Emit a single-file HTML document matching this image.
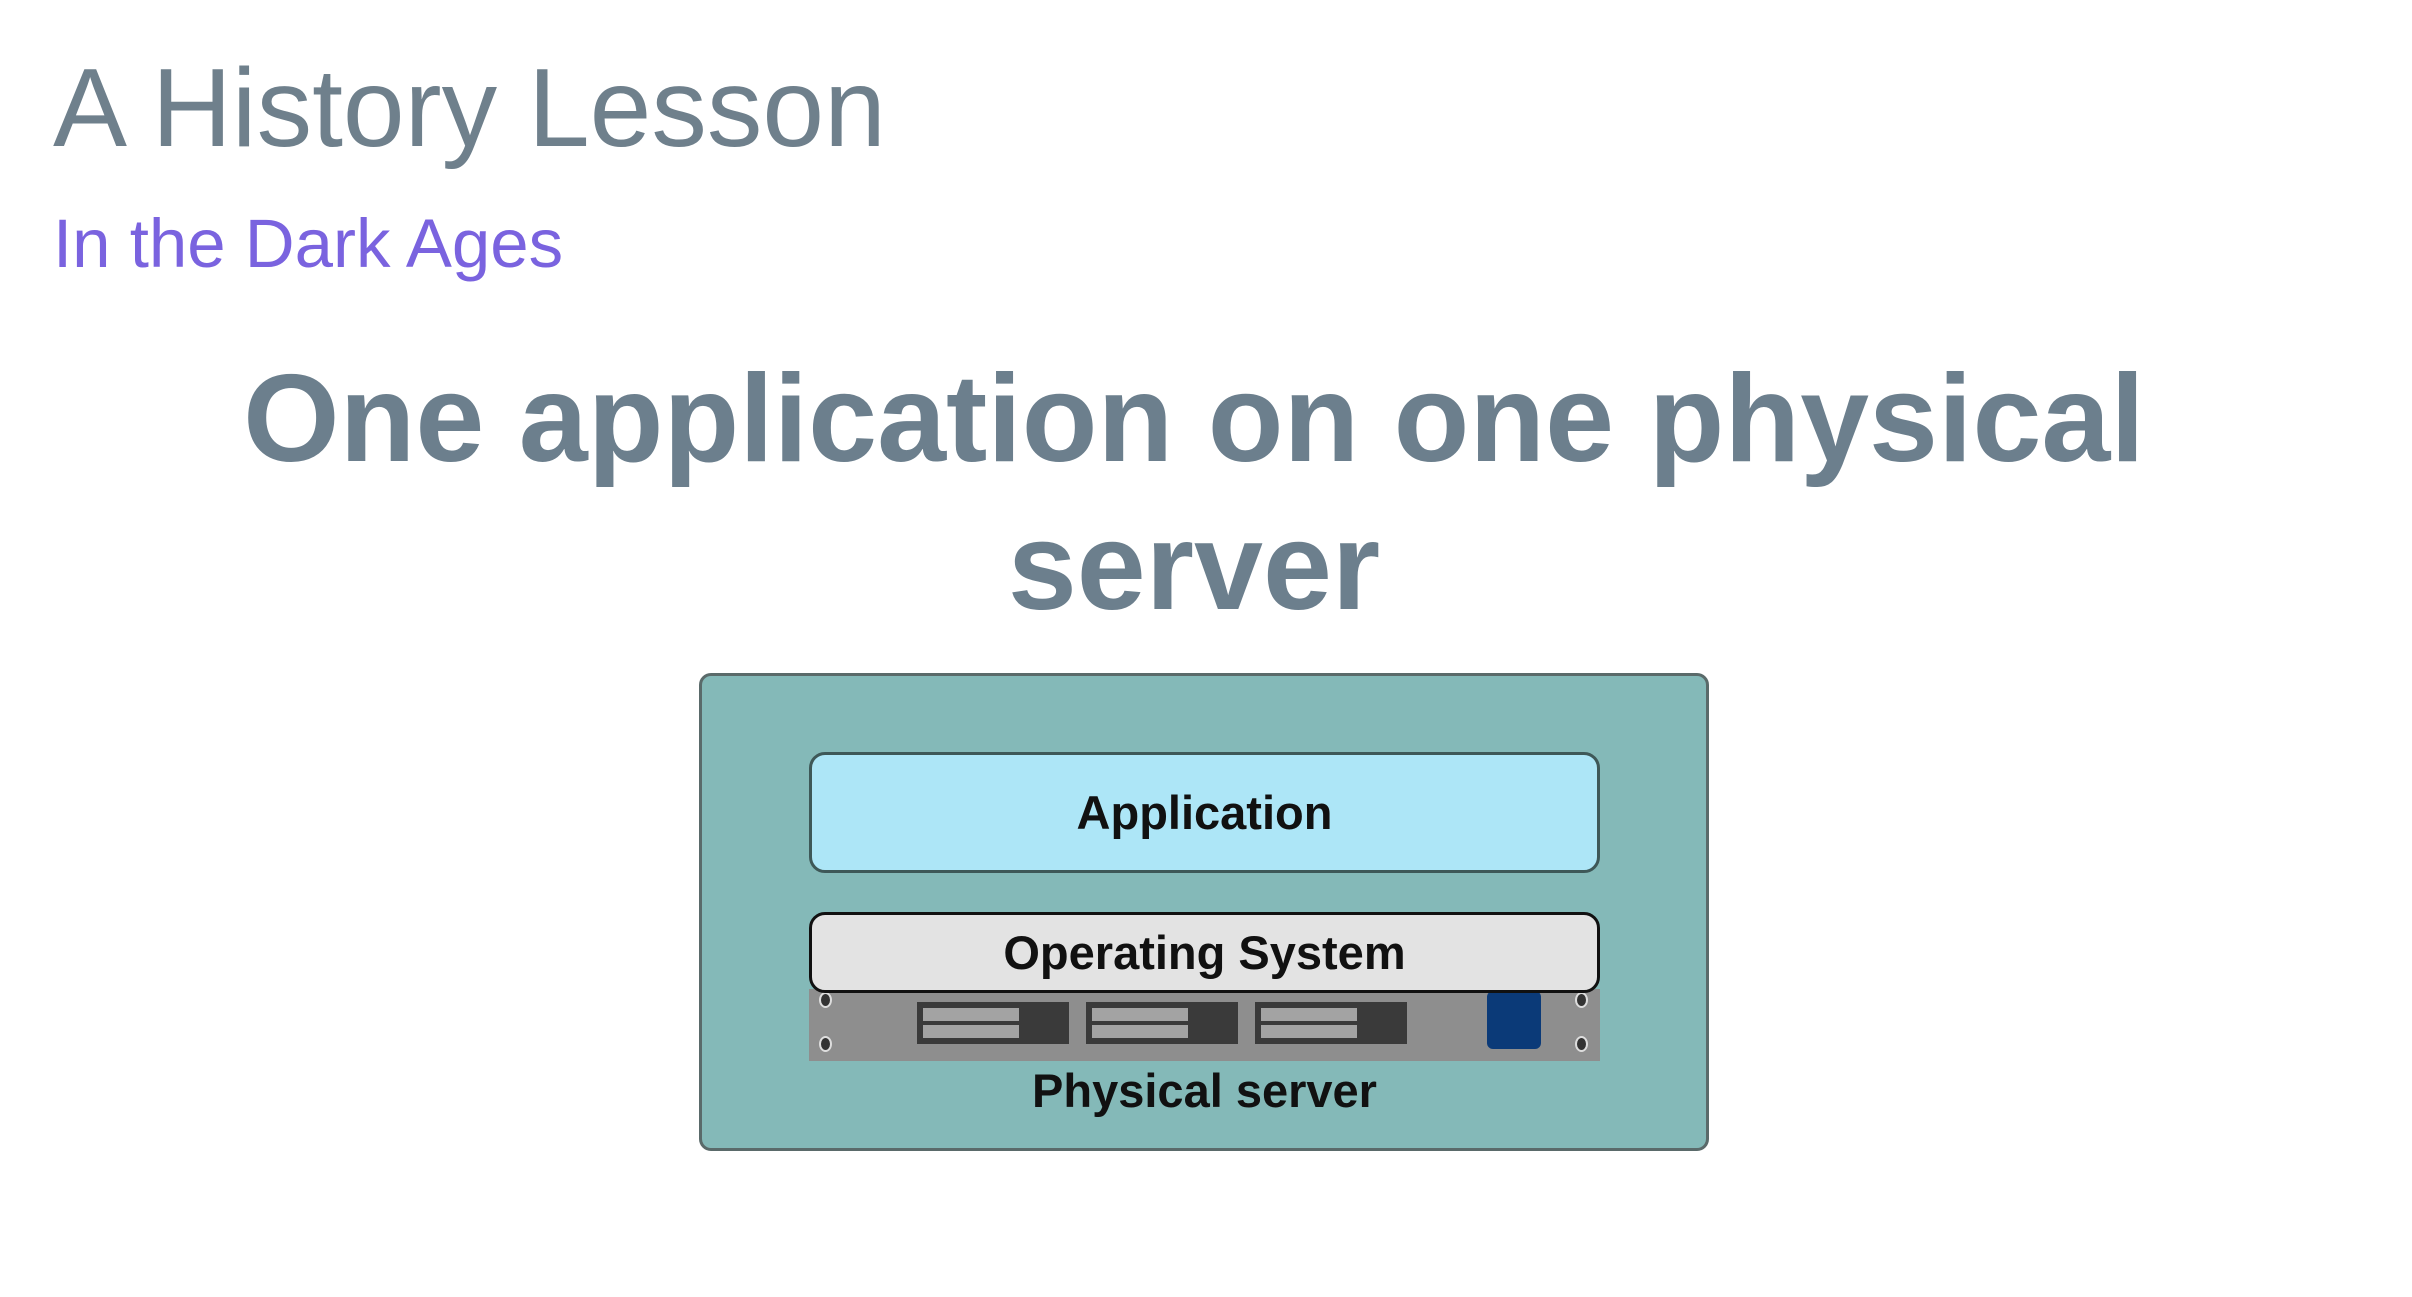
<!DOCTYPE html>
<html><head><meta charset="utf-8"><style>
html,body{margin:0;padding:0;background:#fff;}
body{width:2412px;height:1297px;position:relative;overflow:hidden;font-family:"Liberation Sans",Arial,sans-serif;}
.a{position:absolute;}
.t1{left:53px;top:53px;font-size:111px;color:#6f808c;line-height:1;white-space:nowrap;}
.t2{left:53px;top:209px;font-size:69px;color:#7a63df;line-height:1;white-space:nowrap;}
.h{left:-12px;width:2412px;top:345px;text-align:center;font-size:124px;font-weight:bold;color:#6c7f8d;line-height:148px;}
.box{left:699px;top:673px;width:1004px;height:472px;background:#84b9b8;border:3px solid #5a6a6a;border-radius:12px;}
.app{left:809px;top:752px;width:785px;height:115px;background:#ade6f7;border:3px solid #3e5858;border-radius:16px;}
.os{left:809px;top:912px;width:785px;height:75px;background:#e3e3e3;border:3px solid #111;border-radius:16px;z-index:2;}
.lbl{display:flex;align-items:center;justify-content:center;font-weight:bold;font-size:47px;color:#111;}
.srv{left:809px;top:989px;width:791px;height:72px;background:#8e8e8e;}
.bay{position:absolute;top:13px;width:152px;height:42px;background:#3a3a3a;}
.bay i{position:absolute;left:6px;width:96px;height:13px;background:#a3a3a3;}
.scr{position:absolute;width:9px;height:12px;border-radius:50%;background:#333;border:2px solid #ddd;}
</style></head><body>
<div class="a t1">A History Lesson</div>
<div class="a t2">In the Dark Ages</div>
<div class="a h">One application on one physical<br>server</div>
<div class="a box"></div>
<div class="a app lbl">Application</div>
<div class="a os lbl">Operating System</div>
<div class="a srv">
 <div class="scr" style="left:10px;top:3px"></div>
 <div class="scr" style="left:10px;top:47px"></div>
 <div class="scr" style="left:766px;top:3px"></div>
 <div class="scr" style="left:766px;top:47px"></div>
 <div class="bay" style="left:108px"><i style="top:6px"></i><i style="top:23px"></i></div>
 <div class="bay" style="left:277px"><i style="top:6px"></i><i style="top:23px"></i></div>
 <div class="bay" style="left:446px"><i style="top:6px"></i><i style="top:23px"></i></div>
 <div style="position:absolute;left:678px;top:2px;width:54px;height:58px;background:#0b3a78;border-radius:6px"></div>
</div>
<div class="a lbl" style="left:809px;top:1062px;width:791px;height:56px;">Physical server</div>
</body></html>
